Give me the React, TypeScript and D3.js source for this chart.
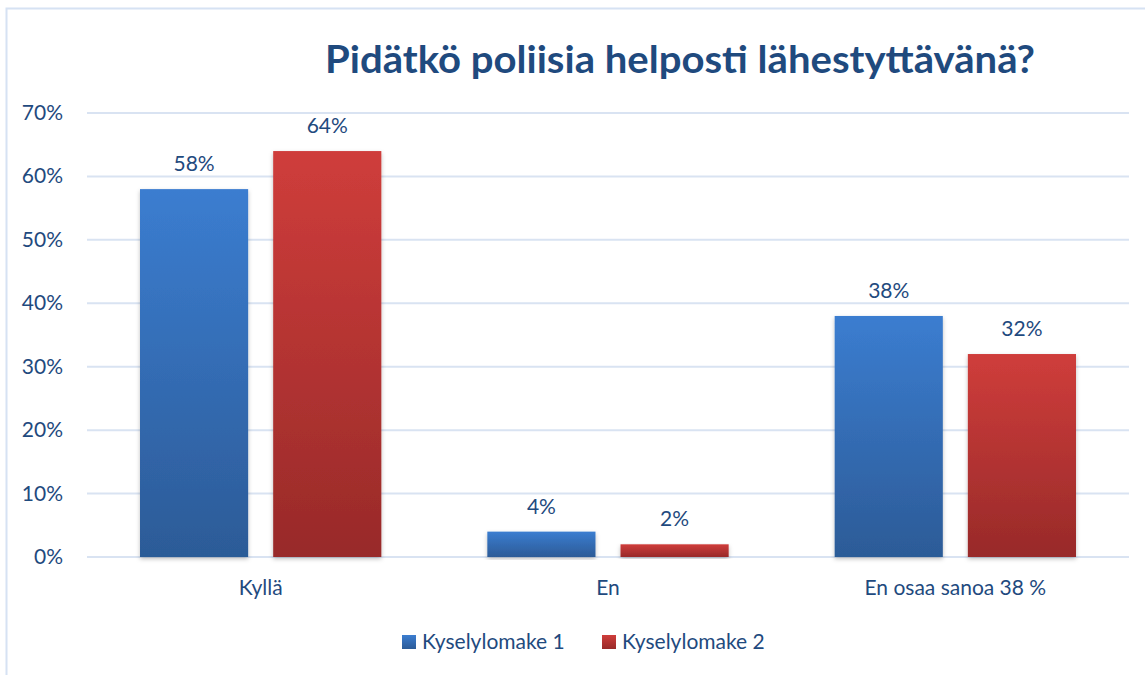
import React, { useEffect, useRef } from 'react'
import * as d3 from 'd3'

const categories = ['Kyllä', 'En', 'En osaa sanoa 38 %']
const seriesNames = ['Kyselylomake 1', 'Kyselylomake 2']
const series1 = [58, 4, 38]
const series2 = [64, 2, 32]
const yTicks = [0, 10, 20, 30, 40, 50, 60, 70]

const W = 1145
const H = 675
const textColor = '#1f4a7e'
const font = 'Lato, "Open Sans", sans-serif'
const fs = 21

export default function App() {
  const ref = useRef<SVGSVGElement>(null)

  useEffect(() => {
    const svg = d3.select(ref.current)
    svg.selectAll('*').remove()

    const defs = svg.append('defs')
    const grads = [
      { id: 'g1', top: '#3b7dd0', bottom: '#2c5b97' },
      { id: 'g2', top: '#cf3d3b', bottom: '#982a29' },
    ]
    grads.forEach(g => {
      const lg = defs.append('linearGradient').attr('id', g.id)
        .attr('x1', 0).attr('y1', 0).attr('x2', 0).attr('y2', 1)
      lg.append('stop').attr('offset', '0%').attr('stop-color', g.top)
      lg.append('stop').attr('offset', '100%').attr('stop-color', g.bottom)
    })
    const f = defs.append('filter').attr('id', 'sh')
      .attr('x', '-10%').attr('y', '-10%').attr('width', '120%').attr('height', '120%')
    f.append('feDropShadow').attr('dx', 0).attr('dy', 2).attr('stdDeviation', 2)
      .attr('flood-color', '#000').attr('flood-opacity', 0.25)

    // frame
    svg.append('rect').attr('x', 6.5).attr('y', 8.5).attr('width', W + 20).attr('height', H + 20)
      .attr('fill', 'white').attr('stroke', '#d6e2f3').attr('stroke-width', 2)

    const left = 87, right = 1129, top = 113, bottom = 557
    const x = d3.scaleBand().domain(categories).range([left, right]).paddingInner(0).paddingOuter(0)
    const inner = d3.scaleBand().domain(seriesNames).range([53, x.bandwidth() - 53]).paddingInner(0.188)
    const y = d3.scaleLinear().domain([0, 70]).range([bottom, top])

    // grid
    svg.append('g').selectAll('line').data(yTicks).enter().append('line')
      .attr('x1', left).attr('x2', right)
      .attr('y1', d => y(d)).attr('y2', d => y(d))
      .attr('stroke', '#d9e3f2').attr('stroke-width', 2)

    svg.append('g').selectAll('text').data(yTicks).enter().append('text')
      .attr('x', 63).attr('y', d => y(d) + 7)
      .attr('text-anchor', 'end')
      .attr('font-family', font).attr('font-size', fs).attr('fill', textColor)
      .text(d => d + '%')

    const data = [series1, series2]
    data.forEach((vals, si) => {
      const g = svg.append('g')
      g.selectAll('rect').data(vals).enter().append('rect')
        .attr('x', (d, i) => x(categories[i])! + inner(seriesNames[si])!)
        .attr('width', inner.bandwidth())
        .attr('y', d => y(d))
        .attr('height', d => y(0) - y(d))
        .attr('fill', `url(#g${si + 1})`)
        .attr('filter', 'url(#sh)')
      g.selectAll('text').data(vals).enter().append('text')
        .attr('x', (d, i) => x(categories[i])! + inner(seriesNames[si])! + inner.bandwidth() / 2)
        .attr('y', d => y(d) - 18)
        .attr('text-anchor', 'middle')
        .attr('font-family', font).attr('font-size', fs).attr('fill', textColor)
        .text(d => d + '%')
    })

    // category labels
    svg.append('g').selectAll('text').data(categories).enter().append('text')
      .attr('x', d => x(d)! + x.bandwidth() / 2).attr('y', 595)
      .attr('text-anchor', 'middle')
      .attr('font-family', font).attr('font-size', fs).attr('fill', textColor)
      .text(d => d)

    // title
    svg.append('text').attr('x', 680).attr('y', 73)
      .attr('text-anchor', 'middle')
      .attr('font-family', font).attr('font-weight', 'bold').attr('font-size', 38)
      .attr('fill', textColor)
      .attr('textLength', 710).attr('lengthAdjust', 'spacingAndGlyphs')
      .text('Pidätkö poliisia helposti lähestyttävänä?')

    // legend
    const legX = [402, 602]
    seriesNames.forEach((n, i) => {
      svg.append('rect').attr('x', legX[i]).attr('y', 635).attr('width', 14).attr('height', 14)
        .attr('fill', `url(#g${i + 1})`)
      svg.append('text').attr('x', legX[i] + 20).attr('y', 649)
        .attr('font-family', font).attr('font-size', fs).attr('fill', textColor)
        .text(n)
    })
  }, [])

  return (
    <svg ref={ref} width={W} height={H} style={{ position: 'absolute', left: 0, top: 0 }} />
  )
}
